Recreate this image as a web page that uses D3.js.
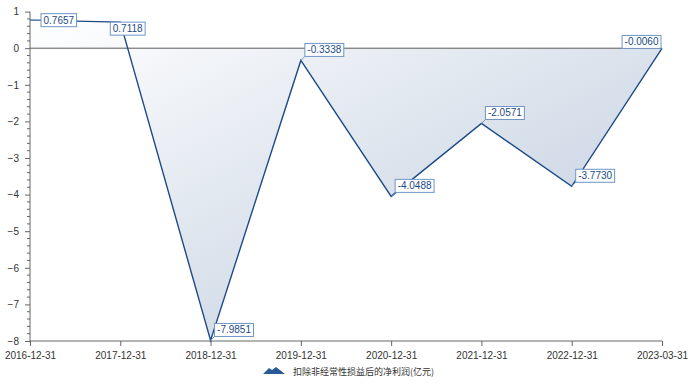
<!DOCTYPE html>
<html><head><meta charset="utf-8">
<script src="https://cdn.jsdelivr.net/npm/d3@7"></script>
<style>
html,body{margin:0;padding:0;background:#fff;}
svg{display:block;}
text{font-family:"Liberation Sans","Noto Sans CJK SC",sans-serif;}
</style></head>
<body>
<svg id="chart" width="700" height="386"></svg>
<script>
const categories = ["2016-12-31","2017-12-31","2018-12-31","2019-12-31","2020-12-31","2021-12-31","2022-12-31","2023-03-31"];
const values = [0.7657, 0.7118, -7.9851, -0.3338, -4.0488, -2.0571, -3.7730, -0.0060];
const labels = ["0.7657","0.7118","-7.9851","-0.3338","-4.0488","-2.0571","-3.7730","-0.0060"];
const yTicks = [1,0,-1,-2,-3,-4,-5,-6,-7,-8];
const seriesName = "扣除非经常性损益后的净利润(亿元)";

const svg = d3.select("#chart");
const x = d3.scalePoint().domain(categories).range([30, 662]);
const y = d3.scaleLinear().domain([-8, 1]).range([341, 11.6]);

const defs = svg.append("defs");
const grad = defs.append("linearGradient").attr("id","g1")
  .attr("x1","0").attr("y1","0").attr("x2","1").attr("y2","1");
grad.append("stop").attr("offset","0").attr("stop-color","#ffffff");
grad.append("stop").attr("offset","0.65").attr("stop-color","#d3dce8");
grad.append("stop").attr("offset","1").attr("stop-color","#bfcbdc");

const pts = categories.map((c,i)=>({c, v: values[i], l: labels[i], i}));

// area
const area = d3.area().x(d=>x(d.c)).y0(y(0)).y1(d=>y(d.v));
svg.append("path").datum(pts).attr("d", area).attr("fill","url(#g1)");

// zero line
svg.append("line").attr("x1",30).attr("x2",662).attr("y1",y(0)).attr("y2",y(0))
  .attr("stroke","#5a5a5a").attr("stroke-width",1);

// y axis
const minor = d3.range(-8, 1.0001, 0.2).map(v=>+v.toFixed(2));
const yAxis = d3.axisLeft(y).tickValues(yTicks).tickSize(5).tickPadding(6).tickFormat(d3.format("d"));
const gy = svg.append("g").attr("transform","translate(30,0)").call(yAxis);
gy.select(".domain").attr("stroke","#666").attr("d","M0,"+y(1)+"V"+y(-8));
gy.selectAll(".tick line").attr("stroke","#666");
gy.selectAll(".tick text").attr("fill","#333").style("font-size","10px");
gy.selectAll(".minor").data(minor.filter(v=>Math.abs(v-Math.round(v))>0.01)).enter()
  .append("line").attr("class","minor").attr("x1",-3).attr("x2",0)
  .attr("y1",d=>y(d)).attr("y2",d=>y(d)).attr("stroke","#666");

// x axis
const xAxis = d3.axisBottom(x).tickSize(5).tickPadding(6);
const gx = svg.append("g").attr("transform","translate(0,"+y(-8)+")").call(xAxis);
gx.select(".domain").attr("stroke","#666").attr("d","M30,0H662");
gx.selectAll(".tick line").attr("stroke","#666");
gx.selectAll(".tick text").attr("fill","#333").style("font-size","10px");

// line
const line = d3.line().x(d=>x(d.c)).y(d=>y(d.v));
svg.append("path").datum(pts).attr("d", line).attr("fill","none")
  .attr("stroke","#1c4a87").attr("stroke-width",1.4);

// labels
function place(d, w, h){
  const px = x(d.c), py = y(d.v);
  if (d.i === 0) return {bx: px+11, by: py-h/2, ax: px+11, ay: py};
  if (d.i === 1) return {bx: px-10, by: py, ax: px, ay: py};
  if (d.i === pts.length-1) return {bx: px-1-w, by: py-h, ax: px, ay: py};
  return {bx: px+4, by: py-4-h, ax: px+4, ay: py-4};
}
const lg = svg.append("g");
pts.forEach(d=>{
  const g = lg.append("g");
  const t = g.append("text").text(d.l).style("font-size","10px").attr("fill","#1c4a87");
  const tw = t.node().getComputedTextLength();
  const w = tw + 5, h = 13;
  const p = place(d, w, h);
  g.insert("line","text").attr("x1",x(d.c)).attr("y1",y(d.v)).attr("x2",p.ax).attr("y2",p.ay)
    .attr("stroke","#6f95c4").attr("stroke-width",1);
  g.insert("rect","text").attr("x",p.bx).attr("y",p.by).attr("width",w).attr("height",h)
    .attr("fill","#fff").attr("stroke","#6f95c4").attr("stroke-width",1);
  t.attr("x",p.bx+2.5).attr("y",p.by+10);
});

// legend
const leg = svg.append("g").attr("transform","translate(263,367)");
leg.append("path").attr("d","M0,7 L6,1 L9,3 L13,0 L22,7 Z").attr("fill","#2a5a96");
leg.append("text").attr("x",30).attr("y",8).text(seriesName)
  .style("font-size","9px").attr("fill","#333")
  .style("font-family","'Noto Sans CJK SC',sans-serif");
</script>
</body></html>
